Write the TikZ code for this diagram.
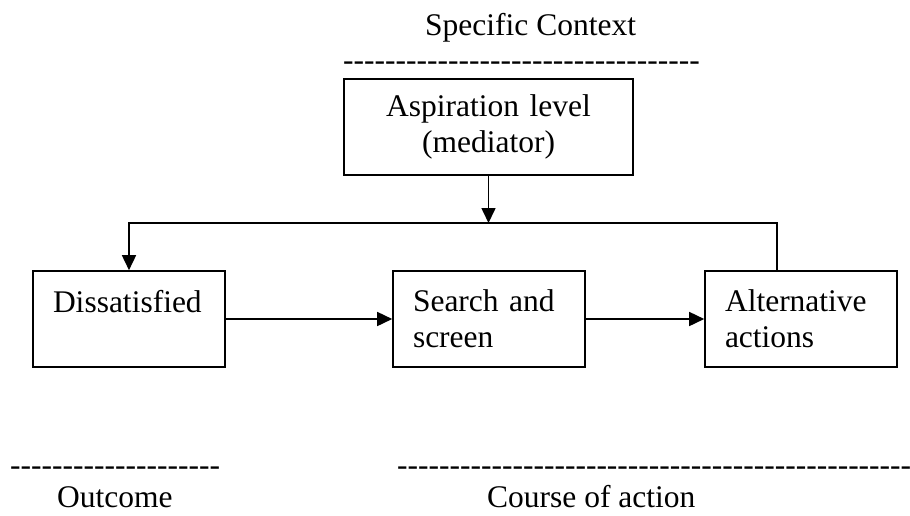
\documentclass[tikz,border=0pt]{standalone}
\usepackage{fontspec}
\setmainfont{Liberation Serif}
\usetikzlibrary{arrows.meta}
\newcount\hycount
\newcommand\hyrow[1]{\hycount=0 \loop -{}\advance\hycount by 1 \ifnum\hycount<#1 \repeat}
\tikzset{
  every node/.style={font=\fontsize{31.5}{36}\selectfont, inner sep=0pt},
  box/.style={draw, line width=1.6pt, minimum width=192pt, minimum height=96pt, align=left, text width=152pt},
  txt/.style={anchor=base west},
  conn/.style={line width=1.6pt},
  arr/.style={conn, -{Triangle[length=15pt,width=14pt]}}
}
\begin{document}
\begin{tikzpicture}[x=1pt,y=-1pt]
\useasboundingbox (0,0) rectangle (910,515);
% boxes
\node[box, minimum width=289pt, text width=289pt, align=center] (asp) at (488.5,127) {Aspiration level\\(mediator)};
\node[box] (dis) at (129,319) {Dissatisfied\\\mbox{}};
\node[box] (srch) at (489,319) {Search and\\screen};
\node[box] (alt) at (801,319) {Alternative\\actions};
% labels
\node[txt] (ctx) at (425,35) {Specific Context};
\node[txt] (dtop) at (343,70) {\hyrow{34}};
\node[txt] (dl) at (10,475) {\hyrow{20}};
\node[txt] (dr) at (397,475) {\hyrow{49}};
\node[txt] (out) at (57,507) {Outcome};
\node[txt] (coa) at (487,507) {Course of action};
% connectors
\coordinate (tl) at (129,223);
\coordinate (tr) at (777,223);
\draw[arr] (asp.south) -- (asp.south |- tl);
\draw[arr] (alt.north -| tr) -- (tr) -- (tl) -- (dis.north);
\draw[arr] (dis) -- (srch);
\draw[arr] (srch) -- (alt);
\end{tikzpicture}
\end{document}
